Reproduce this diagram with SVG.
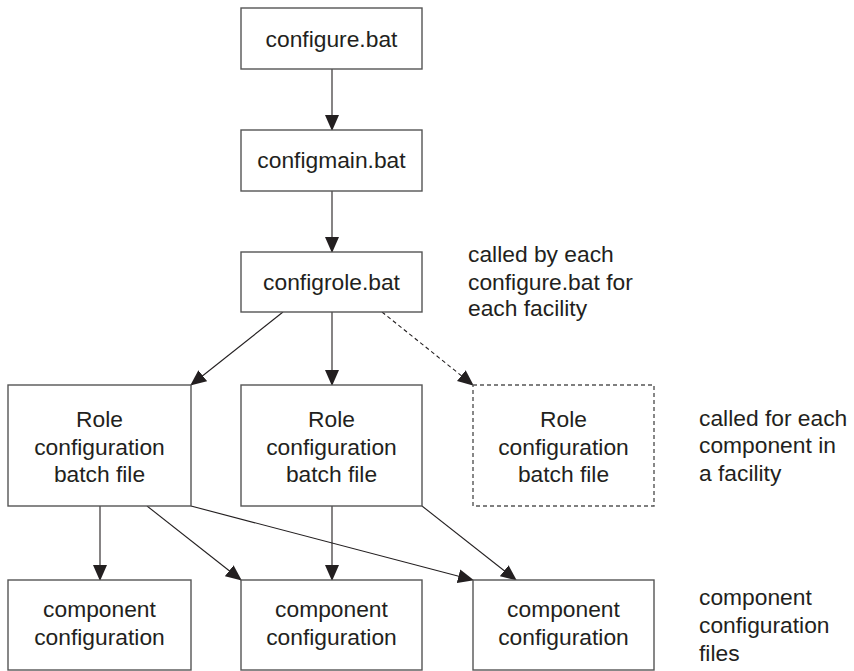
<svg xmlns="http://www.w3.org/2000/svg" width="854" height="671" viewBox="0 0 854 671">
<style>
.box{fill:#fff;stroke:#555;stroke-width:1.4}
.dbox{fill:#fff;stroke:#555;stroke-width:1.4;stroke-dasharray:4 3}
.t{font-family:"Liberation Sans",Arial,sans-serif;font-size:22.8px;fill:#231f20}
.c{text-anchor:middle}
.ln{stroke:#231f20;stroke-width:1.1;fill:none;marker-end:url(#ah)}
.dl{stroke-dasharray:4 3}
</style>
<defs>
<marker id="ah" markerUnits="userSpaceOnUse" markerWidth="16" markerHeight="14" viewBox="0 0 16 14" refX="15" refY="7" orient="auto">
<path d="M0,0 L16,7 L0,14 Z" fill="#231f20"/>
</marker>
</defs>
<rect width="854" height="671" fill="#fff"/>
<g id="connectors">
<line class="ln" x1="332" y1="69" x2="332" y2="130"/>
<line class="ln" x1="332" y1="191" x2="332" y2="252"/>
<line class="ln" x1="283" y1="312" x2="191" y2="385"/>
<line class="ln" x1="332" y1="312" x2="332" y2="385"/>
<line class="ln dl" x1="382" y1="312" x2="473" y2="385"/>
<line class="ln" x1="100" y1="506" x2="100" y2="580"/>
<line class="ln" x1="147" y1="506" x2="241" y2="580"/>
<line class="ln" x1="191" y1="506" x2="473" y2="580"/>
<line class="ln" x1="332" y1="506" x2="332" y2="580"/>
<line class="ln" x1="422" y1="506" x2="516" y2="580"/>
</g>
<g id="configure">
<rect class="box" x="241" y="8" width="181" height="61"/>
<text class="t c" x="331.5" y="47">configure.bat</text>
</g>
<g id="configmain">
<rect class="box" x="241" y="130" width="181" height="61"/>
<text class="t c" x="331.5" y="168">configmain.bat</text>
</g>
<g id="configrole">
<rect class="box" x="241" y="252" width="181" height="60"/>
<text class="t c" x="331.5" y="290">configrole.bat</text>
</g>
<g id="role1">
<rect class="box" x="8" y="385" width="183" height="121"/>
<text class="t c" x="99.5" y="427">Role</text>
<text class="t c" x="99.5" y="454.5">configuration</text>
<text class="t c" x="99.5" y="482">batch file</text>
</g>
<g id="role2">
<rect class="box" x="241" y="385" width="181" height="121"/>
<text class="t c" x="331.5" y="427">Role</text>
<text class="t c" x="331.5" y="454.5">configuration</text>
<text class="t c" x="331.5" y="482">batch file</text>
</g>
<g id="role3">
<rect class="dbox" x="473" y="385" width="181" height="121"/>
<text class="t c" x="563.5" y="427">Role</text>
<text class="t c" x="563.5" y="454.5">configuration</text>
<text class="t c" x="563.5" y="482">batch file</text>
</g>
<g id="comp1">
<rect class="box" x="8" y="580" width="183" height="90"/>
<text class="t c" x="99.5" y="617">component</text>
<text class="t c" x="99.5" y="645">configuration</text>
</g>
<g id="comp2">
<rect class="box" x="241" y="580" width="181" height="90"/>
<text class="t c" x="331.5" y="617">component</text>
<text class="t c" x="331.5" y="645">configuration</text>
</g>
<g id="comp3">
<rect class="box" x="473" y="580" width="181" height="90"/>
<text class="t c" x="563.5" y="617">component</text>
<text class="t c" x="563.5" y="645">configuration</text>
</g>
<g id="label1">
<text class="t" x="468" y="262">called by each</text>
<text class="t" x="468" y="290">configure.bat for</text>
<text class="t" x="468" y="316">each facility</text>
</g>
<g id="label2">
<text class="t" x="699" y="426">called for each</text>
<text class="t" x="699" y="453">component in</text>
<text class="t" x="699" y="481">a facility</text>
</g>
<g id="label3">
<text class="t" x="699" y="605">component</text>
<text class="t" x="699" y="633">configuration</text>
<text class="t" x="699" y="661">files</text>
</g>
</svg>
